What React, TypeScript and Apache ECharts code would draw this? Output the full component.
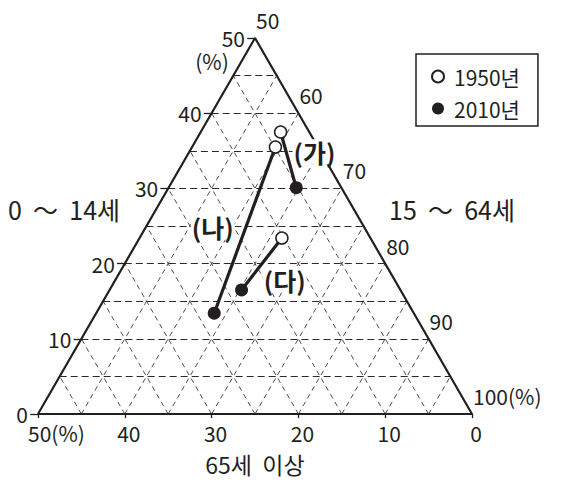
import React, { useEffect, useRef } from "react";
import * as echarts from "echarts";

const regions = ["(가)", "(나)", "(다)"];
const child1950 = [37.5, 35.5, 23.4];
const elder1950 = [3.3, 4.9, 10.2];
const child2010 = [30.1, 13.4, 16.5];
const elder2010 = [5.2, 23.0, 18.3];

const leftTicks = [0, 10, 20, 30, 40, 50];
const rightTicks = [50, 60, 70, 80, 90, 100];
const bottomTicks = [50, 40, 30, 20, 10, 0];
const gridSteps = [5, 10, 15, 20, 25, 30, 35, 40, 45];

const FONT = "'Noto Sans CJK KR', 'Noto Sans', sans-serif";
const INK = "#231f20";

// ternary (child a, elderly c) -> cartesian data units
const toXY = (a: number, c: number) => [50 - c - a / 2, a];

// region label offsets relative to each line's midpoint (px)
const regionLabelOffsets = [
  [26, -8],
  [-32, -3],
  [23, 16],
];

export default function App() {
  const ref = useRef<HTMLDivElement>(null);
  useEffect(() => {
    document.body.style.margin = "0";
    const chart = echarts.init(ref.current!, null, { renderer: "svg" });

    const hLines = gridSteps.map((k) => ({ coords: [[k / 2, k], [50 - k / 2, k]] }));
    const diagLines = gridSteps.flatMap((k) => [
      { coords: [[50 - k, 0], [(50 - k) / 2, 50 - k]] },
      { coords: [[50 - k, 0], [50 - k / 2, k]] },
    ]);
    const tickLines = [
      ...leftTicks.map((v) => ({ coords: [[v / 2 - 0.9, v], [v / 2, v]] })),
      ...bottomTicks.map((v) => ({ coords: [[50 - v, 0], [50 - v, -0.55]] })),
    ];
    const regionLines = regions.map((_, i) => ({
      coords: [toXY(child1950[i], elder1950[i]), toXY(child2010[i], elder2010[i])],
    }));
    const mids = regions.map((name, i) => {
      const p = toXY(child1950[i], elder1950[i]);
      const q = toXY(child2010[i], elder2010[i]);
      return {
        value: [(p[0] + q[0]) / 2, (p[1] + q[1]) / 2],
        name,
        label: { offset: regionLabelOffsets[i] },
      };
    });

    const textBase = { fontFamily: FONT, color: INK, fontSize: 21 };
    const solid = { opacity: 1 };

    chart.setOption({
      animation: false,
      grid: { left: 38, right: 97, top: 38, bottom: 69 },
      xAxis: { type: "value", min: 0, max: 50, show: false },
      yAxis: { type: "value", min: 0, max: 50, show: false },
      legend: {
        orient: "vertical",
        left: 416,
        top: 54,
        borderColor: INK,
        borderWidth: 1.5,
        padding: [11, 18, 6, 15],
        itemWidth: 12,
        itemHeight: 12,
        itemGap: 9,
        icon: "circle",
        textStyle: { fontFamily: FONT, color: INK, fontSize: 21, lineHeight: 23, padding: [0, 0, 0, 5] },
        data: ["1950년", "2010년"],
      },
      graphic: [
        { type: "text", left: 8, top: 196, style: { text: "0  ～  14세", font: `25px ${FONT}`, fill: INK } },
        { type: "text", left: 389, top: 196, style: { text: "15  ～  64세", font: `25px ${FONT}`, fill: INK } },
        {
          type: "text",
          x: 255,
          y: 464,
          style: { text: "65세  이상", font: `23px ${FONT}`, fill: INK, align: "center", verticalAlign: "middle" },
        },
      ],
      series: [
        {
          type: "lines",
          coordinateSystem: "cartesian2d",
          polyline: false,
          clip: false,
          silent: true,
          lineStyle: { color: "#3a3a3a", width: 0.9, type: [5, 4], opacity: 1 },
          data: diagLines,
          z: 1,
        },
        {
          type: "lines",
          coordinateSystem: "cartesian2d",
          clip: false,
          silent: true,
          lineStyle: { color: "#2a2a2a", width: 1.1, type: [7, 4], opacity: 1 },
          data: hLines,
          z: 1,
        },
        {
          type: "lines",
          coordinateSystem: "cartesian2d",
          clip: false,
          silent: true,
          lineStyle: { color: INK, width: 1.3, opacity: 1 },
          data: tickLines,
          z: 2,
        },
        {
          type: "line",
          clip: false,
          silent: true,
          symbol: "none",
          lineStyle: { color: INK, width: 2.2 },
          data: [toXY(0, 50), toXY(0, 0), toXY(50, 0), toXY(0, 50)],
          z: 3,
        },
        {
          type: "lines",
          coordinateSystem: "cartesian2d",
          clip: false,
          silent: true,
          lineStyle: { color: INK, width: 3.2, opacity: 1 },
          data: regionLines,
          z: 4,
        },
        {
          name: "1950년",
          type: "scatter",
          clip: false,
          symbol: "circle",
          symbolSize: 12,
          itemStyle: { color: "#ffffff", borderColor: INK, borderWidth: 1.5, opacity: 1 },
          data: regions.map((_, i) => toXY(child1950[i], elder1950[i])),
          z: 5,
        },
        {
          name: "2010년",
          type: "scatter",
          clip: false,
          symbol: "circle",
          symbolSize: 13,
          itemStyle: { color: INK, opacity: 1 },
          data: regions.map((_, i) => toXY(child2010[i], elder2010[i])),
          z: 5,
        },
        {
          type: "scatter",
          clip: false,
          silent: true,
          symbolSize: 0,
          itemStyle: solid,
          data: mids,
          label: {
            show: true,
            position: "inside",
            formatter: (p: any) => p.name,
            fontFamily: FONT,
            fontSize: 25,
            fontWeight: "bold",
            color: INK,
            backgroundColor: "#ffffff",
            padding: [0, 1],
          },
          z: 6,
        },
        // left axis labels (0~14세)
        {
          type: "scatter",
          clip: false,
          silent: true,
          symbolSize: 0,
          itemStyle: solid,
          data: [
            ...leftTicks.map((v) => ({ value: [v / 2, v], name: String(v) })),
            { value: [25, 50], name: "(%)", label: { position: "inside", offset: [-43, 23] } },
          ],
          label: {
            show: true,
            position: "left",
            distance: 10,
            formatter: (p: any) => p.name,
            ...textBase,
          },
          z: 6,
        },
        // right axis labels (15~64세)
        {
          type: "scatter",
          clip: false,
          silent: true,
          symbolSize: 0,
          itemStyle: solid,
          data: rightTicks.map((v) => ({ value: toXY(100 - v, 0), name: v === 100 ? "100(%)" : String(v) })),
          label: {
            show: true,
            position: "inside",
            align: "left",
            verticalAlign: "middle",
            offset: [1, -18],
            formatter: (p: any) => p.name,
            ...textBase,
          },
          z: 6,
        },
        // bottom axis labels (65세 이상)
        {
          type: "scatter",
          clip: false,
          silent: true,
          symbolSize: 0,
          itemStyle: solid,
          data: bottomTicks.map((v) => ({
            value: toXY(0, v),
            name: v === 50 ? "50(%)" : String(v),
            label: v === 50 ? { align: "left", offset: [-10, 19] } : undefined,
          })),
          label: {
            show: true,
            position: "inside",
            align: "center",
            verticalAlign: "middle",
            offset: [4, 19],
            lineHeight: 22,
            formatter: (p: any) => p.name,
            ...textBase,
          },
          z: 6,
        },
      ],
    });
    return () => chart.dispose();
  }, []);
  return <div ref={ref} style={{ width: 569, height: 483 }} />;
}
